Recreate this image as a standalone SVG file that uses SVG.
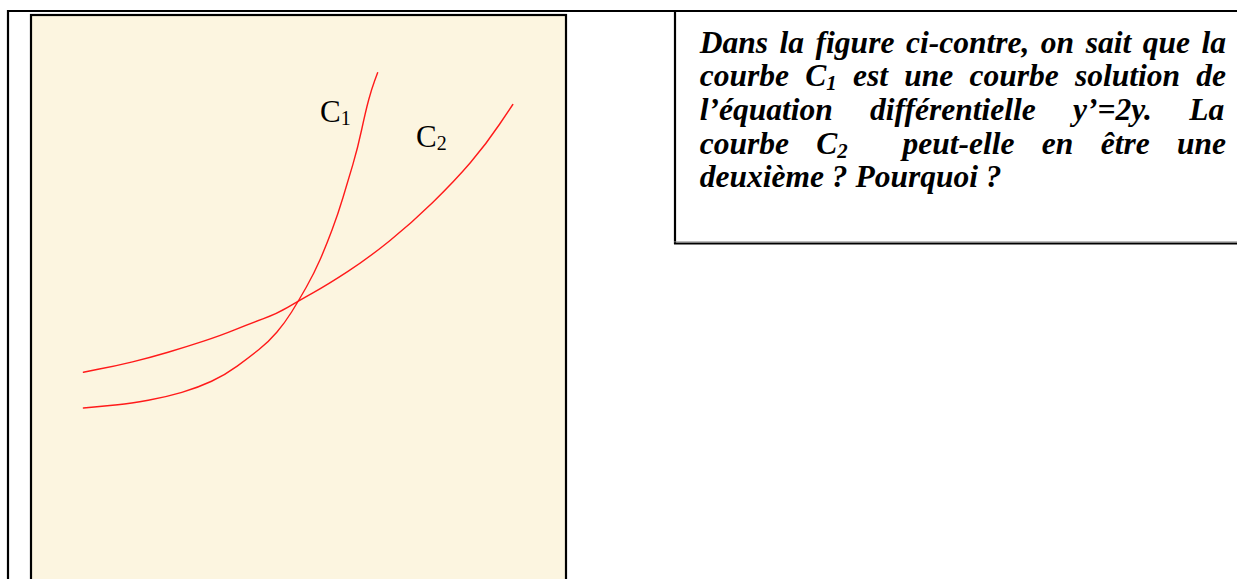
<svg xmlns="http://www.w3.org/2000/svg" width="1237" height="579" viewBox="0 0 1237 579">
<style>
.frame{fill:none;stroke:#000;stroke-width:2.2}
.curve{fill:none;stroke:#ff1a1a;stroke-width:1.4;stroke-linejoin:round;stroke-linecap:round}
.lbl{font-family:"Liberation Serif","Times New Roman",serif;font-size:31px;fill:#000}
.sub{font-size:20px}
.q{font-family:"Liberation Serif","Times New Roman",serif;font-size:31.5px;font-weight:bold;font-style:italic;fill:#000}
.qs{font-size:20.8px}
</style>
<rect width="1237" height="579" fill="#fff"/>
<g id="outer-frame">
  <line class="frame" x1="7" y1="11" x2="1237" y2="11"/>
  <line class="frame" x1="8" y1="10" x2="8" y2="579"/>
</g>
<g id="plot">
  <rect x="31" y="15" width="535" height="590" fill="#fcf5e0" stroke="#000" stroke-width="2.2"/>
</g>
<g id="connectors">
  <path id="curve-C1" class="curve" d="M83.4,408 L94.2,407 Q105,406 117.75,404.8 Q130.5,403.6 148.25,400.3 Q166,397 181.85,392.35 Q197.7,387.7 211.55,381.25 Q225.4,374.8 237.2,366.15 Q249,357.5 258.95,349.55 Q268.9,341.6 276.8,332.3 Q284.7,323 291.6,312 Q298.5,301 306.4,287 Q314.3,273 320.25,259.3 Q326.2,245.6 332.1,229.8 Q338,214 343,197.5 Q348,181 352.9,164.35 Q357.8,147.7 361.75,129.25 Q365.7,110.8 368.7,99.7 Q371.7,88.6 374.65,80.65 L377.6,72.7"/>
  <path id="curve-C2" class="curve" d="M83.4,372.2 L98.05,369.25 Q114.7,366.3 132.5,361.9 Q150.3,357.5 168.05,352.25 Q185.8,347 203.6,341.15 Q221.4,335.3 235.2,329.65 Q249,324 262.9,318.95 Q276.8,313.9 287.65,307.45 Q298.5,301 313.35,292.65 Q328.2,284.3 347.95,271.4 Q367.7,258.5 389.45,240.95 Q411.2,223.4 432.95,202.2 Q454.7,181 470.5,162.5 Q486.3,144 499.55,124.25 L512.8,104.5"/>
</g>
<g id="label-C1">
  <text class="lbl" x="320" y="122">C<tspan class="sub" dy="3">1</tspan></text>
</g>
<g id="label-C2">
  <text class="lbl" x="416" y="147">C<tspan class="sub" dy="3">2</tspan></text>
</g>
<g id="question-box">
  <line class="frame" x1="675" y1="10" x2="675" y2="244"/>
  <line class="frame" x1="674" y1="243.5" x2="1237" y2="243.5"/>
  <line x1="674" y1="241.8" x2="1237" y2="241.8" stroke="#888" stroke-width="0.8"/>
  <text class="q" x="699.7" y="52.6" word-spacing="3.7">Dans la figure ci-contre, on sait que la</text>
  <text class="q" x="699.7" y="86.3" word-spacing="8.4">courbe C<tspan class="qs" dy="4">1</tspan><tspan dy="-4"> est une courbe solution de</tspan></text>
  <text class="q" x="699.7" y="120" word-spacing="29.5">l’équation différentielle y’=2y. La</text>
  <text class="q" x="699.7" y="153.7" word-spacing="19.5" xml:space="preserve">courbe C<tspan class="qs" dy="4">2</tspan><tspan dy="-4">  peut-elle en être une</tspan></text>
  <text class="q" x="699.7" y="187.4">deuxième ? Pourquoi ?</text>
</g>
</svg>
